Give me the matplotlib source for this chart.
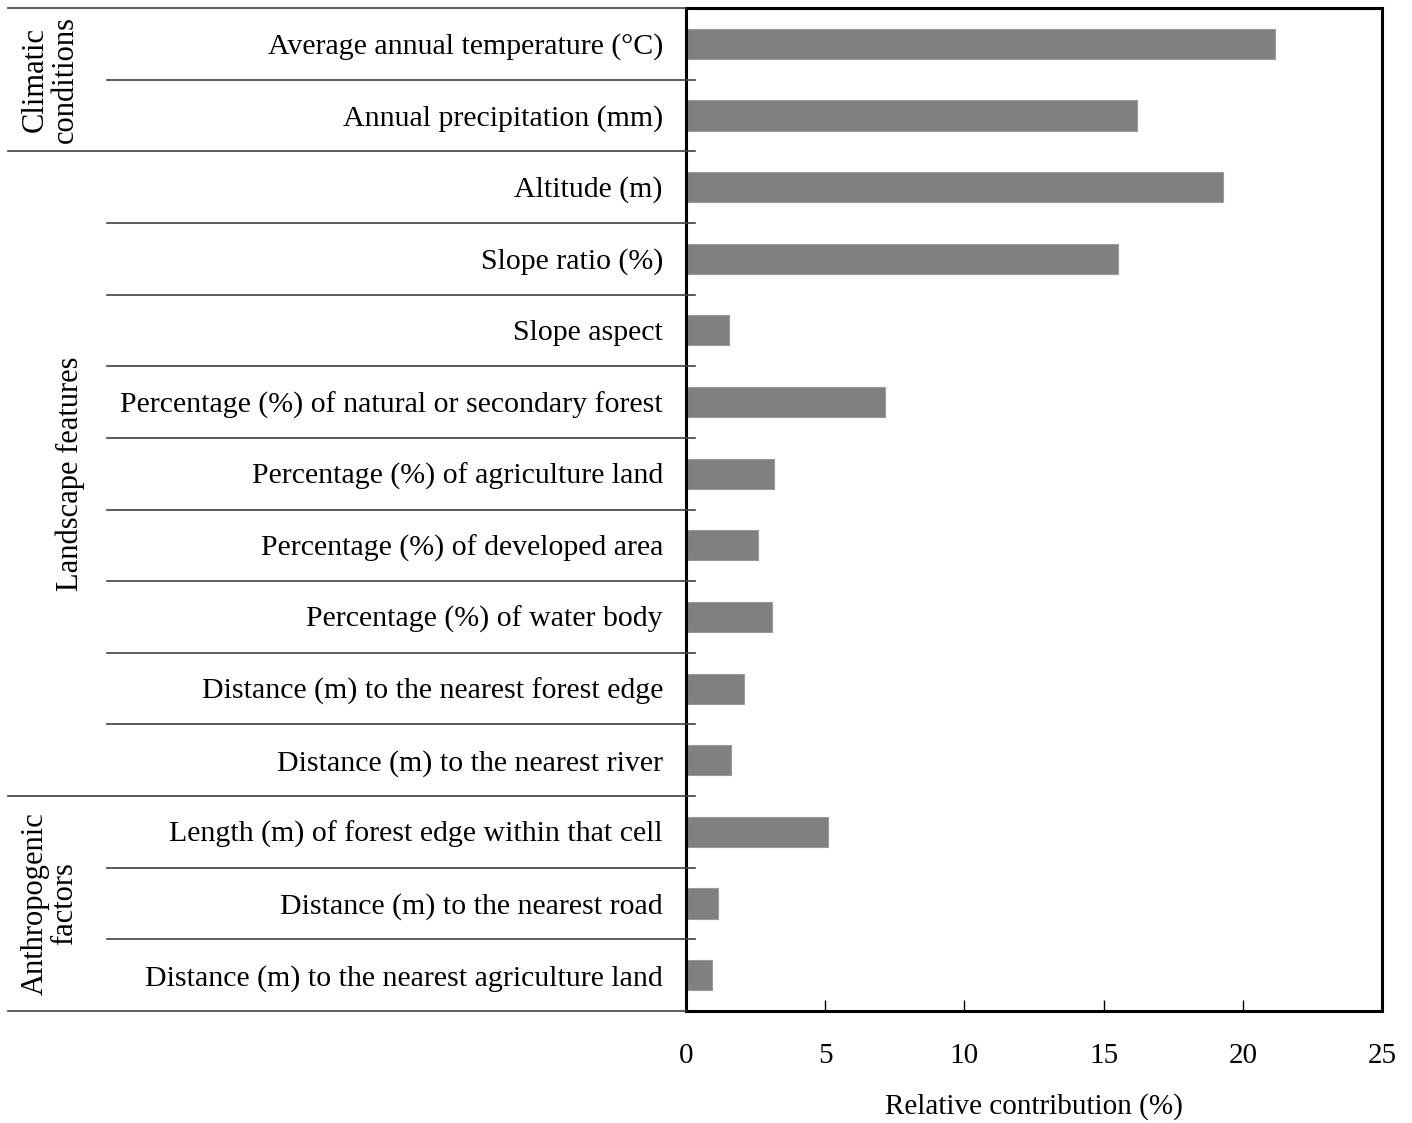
import matplotlib
matplotlib.use("Agg")
import matplotlib.pyplot as plt
from matplotlib.transforms import blended_transform_factory
from matplotlib.lines import Line2D

plt.rcParams["font.family"] = ["Liberation Serif", "DejaVu Serif"]

factors = [
    "Average annual temperature (°C)",
    "Annual precipitation (mm)",
    "Altitude (m)",
    "Slope ratio (%)",
    "Slope aspect",
    "Percentage (%) of natural or secondary forest",
    "Percentage (%) of agriculture land",
    "Percentage (%) of developed area",
    "Percentage (%) of water body",
    "Distance (m) to the nearest forest edge",
    "Distance (m) to the nearest river",
    "Length (m) of forest edge within that cell",
    "Distance (m) to the nearest road",
    "Distance (m) to the nearest agriculture land",
]
contribution = [21.15, 16.2, 19.3, 15.5, 1.55, 7.15, 3.15, 2.6, 3.1, 2.1, 1.6, 5.1, 1.15, 0.95]

groups = ["Climatic\nconditions", "Landscape features", "Anthropogenic\nfactors"]
group_sizes = [2, 9, 3]
x_ticks = [0, 5, 10, 15, 20, 25]

fig = plt.figure(figsize=(14.12, 11.23), dpi=100)
ax = fig.add_axes([686 / 1412, 1 - 1011 / 1123, (1382 - 686) / 1412, (1011 - 8) / 1123])

y = list(range(len(factors)))
ax.barh(y, contribution, height=0.42, color="#808080", edgecolor="#9a9a9a", linewidth=0.8)

ax.set_xlim(0, 25)
ax.set_ylim(len(factors) - 0.5, -0.5)
ax.set_xticks(x_ticks)
ax.set_xticklabels([str(t) for t in x_ticks], fontsize=21)
ax.tick_params(axis="x", direction="in", length=8, width=1, pad=23)
ax.set_yticks([])
for s in ax.spines.values():
    s.set_linewidth(2.2)
    s.set_color("black")
ax.set_xlabel("Relative contribution (%)", fontsize=21)
ax.xaxis.set_label_coords(0.5, -0.082)

# category labels and separators to the left of the axes
trans = blended_transform_factory(fig.transFigure, ax.transData)
for i, name in enumerate(factors):
    ax.text(663 / 1412, i + 0.04, name, transform=trans, ha="right", va="center", fontsize=21.5)

bounds = [0]
for n in group_sizes:
    bounds.append(bounds[-1] + n)

line_kw = dict(transform=trans, color="#404040", linewidth=1.2, clip_on=False)
for b in range(len(factors) + 1):
    yb = b - 0.5
    if b in bounds:
        x0 = 8 / 1412
    else:
        x0 = 107 / 1412
    x1 = 686 / 1412 if b in (0, len(factors)) else 695 / 1412
    fig.add_artist(Line2D([x0, x1], [yb, yb], **line_kw))

group_x = [50, 70, 50]
for g, name in enumerate(groups):
    yc = (bounds[g] + bounds[g + 1] - 1) / 2
    ax.text(group_x[g] / 1412, yc, name, transform=trans, rotation=90,
            ha="center", va="center", fontsize=22, linespacing=1.05)

fig.savefig("out.png", dpi=100)
